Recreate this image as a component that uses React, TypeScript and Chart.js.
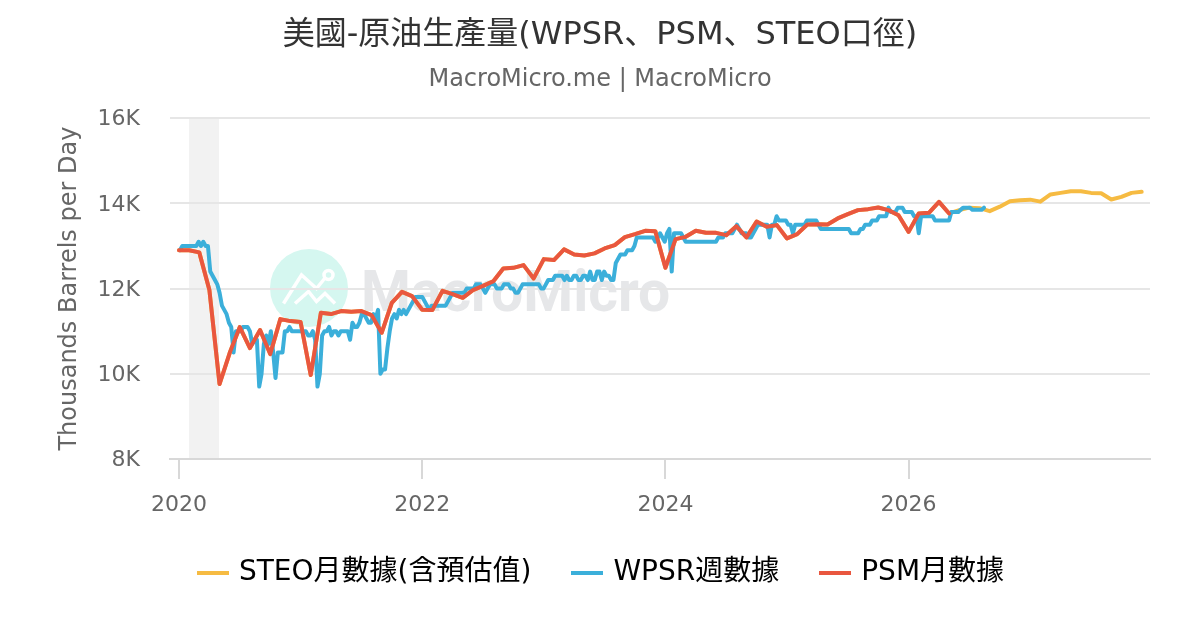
import React, { useEffect, useRef } from "react";
import { Chart, registerables } from "chart.js";

Chart.register(...registerables);

const FONT = '"DejaVu Sans", "Noto Sans CJK JP", sans-serif';

const titleText = "美國-原油生產量(WPSR、PSM、STEO口徑)";
const subtitleText = "MacroMicro.me | MacroMicro";
const yAxisTitle = "Thousands Barrels per Day";
const steoName = "STEO月數據(含預估值)";
const wpsrName = "WPSR週數據";
const psmName = "PSM月數據";
const yearTicks = [2020, 2022, 2024, 2026];
const recession = [2020.082, 2020.329];

// Monthly, from Jan 2020
const psmValues = [
  12900, 12900, 12850, 11965, 9760, 10487, 11097, 10604, 11026, 10463, 11284, 11237,
  11214, 9971, 11432, 11402, 11472, 11456, 11472, 11378, 10963, 11667, 11925, 11824,
  11505, 11495, 11948, 11871, 11784, 11965, 12066, 12169, 12474, 12488, 12551, 12239,
  12692, 12669, 12920, 12802, 12779, 12826, 12943, 13020, 13208, 13279, 13356, 13349,
  12490, 13161, 13215, 13356, 13309, 13309, 13255, 13466, 13201, 13576, 13450, 13490,
  13178, 13279, 13506, 13513, 13506, 13647, 13748, 13842, 13865, 13905, 13842, 13720,
  13332, 13764, 13778, 14036, 13764,
];

// Monthly forecast part of STEO, continuing after the months it shares with PSM
const steoForecast = [
  13842, 13900, 13888, 13818, 13924, 14053, 14076, 14088, 14041, 14210, 14247, 14287,
  14287, 14247, 14240, 14093, 14154, 14247, 14271,
];

// Weekly, from 3 Jan 2020
const wpsrValues = [
  12900, 13000, 13000, 13000, 13000, 13000, 13000, 13000, 13100, 13000, 13100, 13000, 13000, 12400, 12300, 12200,
  12100, 11900, 11600, 11500, 11400, 11200, 11100, 10500, 11000, 11000, 11000, 11100, 11100, 11100, 11000, 10700,
  10800, 10800, 9700, 10000, 10700, 10900, 10700, 11000, 10500, 9900, 10500, 10500, 10500, 11000, 11000, 11100,
  11000, 11000, 11000, 11000, 11000, 11000, 11000, 10900, 10900, 11000, 10800, 9700, 10000, 10900, 11000, 11000,
  11100, 10900, 11000, 11000, 10900, 11000, 11000, 11000, 11000, 10800, 11200, 11100, 11100, 11200, 11400, 11400,
  11300, 11200, 11200, 11400, 11300, 11500, 10000, 10100, 10100, 10600, 11000, 11300, 11400, 11300, 11500, 11400,
  11500, 11400, 11500, 11600, 11700, 11800, 11800, 11800, 11800, 11700, 11600, 11500, 11600, 11600, 11600, 11600,
  11600, 11600, 11600, 11700, 11800, 11900, 11900, 11900, 11900, 11900, 11900, 12000, 12000, 12000, 12000, 12100,
  12100, 12100, 12000, 11900, 12000, 12100, 12100, 12100, 12000, 12000, 12000, 12100, 12100, 12100, 12000, 12000,
  11900, 11900, 12000, 12100, 12100, 12100, 12100, 12100, 12100, 12100, 12100, 12000, 12000, 12100, 12200, 12200,
  12200, 12300, 12300, 12300, 12300, 12200, 12300, 12200, 12200, 12300, 12300, 12200, 12200, 12300, 12300, 12200,
  12400, 12200, 12200, 12400, 12400, 12200, 12400, 12300, 12300, 12200, 12200, 12600, 12700, 12800, 12800, 12800,
  12900, 12900, 12900, 13000, 13200, 13200, 13200, 13200, 13200, 13200, 13200, 13200, 13100, 13200, 13300, 13200,
  13100, 13300, 13400, 12400, 13300, 13300, 13300, 13300, 13200, 13100, 13100, 13100, 13100, 13100, 13100, 13100,
  13100, 13100, 13100, 13100, 13100, 13100, 13100, 13200, 13200, 13200, 13300, 13300, 13300, 13300, 13400, 13500,
  13400, 13300, 13300, 13300, 13200, 13200, 13300, 13400, 13500, 13500, 13500, 13500, 13500, 13200, 13500, 13500,
  13700, 13600, 13600, 13600, 13600, 13500, 13500, 13300, 13500, 13500, 13500, 13500, 13500, 13600, 13600, 13600,
  13600, 13600, 13500, 13400, 13400, 13400, 13400, 13400, 13400, 13400, 13400, 13400, 13400, 13400, 13400, 13400,
  13300, 13300, 13300, 13300, 13400, 13400, 13500, 13500, 13500, 13600, 13600, 13600, 13700, 13700, 13700, 13700,
  13900, 13800, 13800, 13800, 13900, 13900, 13900, 13800, 13800, 13800, 13800, 13700, 13700, 13300, 13700, 13700,
  13700, 13700, 13700, 13700, 13600, 13600, 13600, 13600, 13600, 13600, 13600, 13800, 13800, 13800, 13800, 13850,
  13900, 13900, 13900, 13900, 13850, 13850, 13850, 13850, 13850, 13900,
];

const steoValues = [...psmValues, ...steoForecast];
const monthX = (i: number) => 2020 + i / 12;
const weekX = (i: number) => 2020.008 + (i * 7) / 365.25;

const background = {
  id: "background",
  afterLayout(chart: any) {
    const l = chart.legend;
    l.left += 2.5;
    l.right += 2.5;
    l.top += 1.5;
    l.bottom += 1.5;
  },
  beforeDraw(chart: any) {
    const { ctx, chartArea: a, scales } = chart;
    ctx.save();
    const x0 = scales.x.getPixelForValue(recession[0]);
    const x1 = scales.x.getPixelForValue(recession[1]);
    ctx.fillStyle = "#f2f2f2";
    ctx.fillRect(x0, a.top, x1 - x0, a.bottom - a.top);
    ctx.fillStyle = "#d5f7f0";
    ctx.beginPath();
    ctx.arc(309, 288, 39, 0, Math.PI * 2);
    ctx.fill();
    ctx.strokeStyle = "#ffffff";
    ctx.lineWidth = 3.5;
    ctx.lineJoin = "miter";
    ctx.lineCap = "butt";
    ctx.beginPath();
    ctx.moveTo(283.5, 303.5);
    ctx.lineTo(301.5, 275);
    ctx.lineTo(316.5, 288.5);
    ctx.lineTo(325, 278);
    ctx.moveTo(295, 303.5);
    ctx.lineTo(308.5, 291.5);
    ctx.lineTo(316.5, 301.5);
    ctx.lineTo(325, 293.5);
    ctx.lineTo(335, 303.5);
    ctx.stroke();
    ctx.beginPath();
    ctx.arc(328.5, 275, 4.5, 0, Math.PI * 2);
    ctx.stroke();
    ctx.fillStyle = "#e6e7e9";
    ctx.font = 'bold 57px Roboto, sans-serif';
    ctx.textBaseline = "alphabetic";
    ctx.textAlign = "left";
    ctx.fillText("MacroMicro", 361, 311);
    ctx.restore();
  },
};

const legendMark = (color: string) => {
  const c = document.createElement("canvas");
  c.width = 32;
  c.height = 4;
  const g = c.getContext("2d")!;
  g.fillStyle = color;
  g.fillRect(0, 0, 32, 4);
  return c;
};

export default function App() {
  const ref = useRef<HTMLCanvasElement | null>(null);
  useEffect(() => {
    document.body.style.margin = "0";
    const line = (label: string, color: string, order: number, data: { x: number; y: number }[]) => ({
      label,
      data,
      order,
      borderColor: color,
      backgroundColor: color,
      borderWidth: 4,
      pointRadius: 0,
      pointStyle: legendMark(color),
      tension: 0,
      fill: false,
      borderJoinStyle: "round" as const,
      borderCapStyle: "round" as const,
    });
    const chart = new Chart(ref.current!, {
      type: "line",
      plugins: [background],
      data: {
        datasets: [
          line(steoName, "#f6bb42", 3, steoValues.map((y, i) => ({ x: monthX(i), y }))),
          line(wpsrName, "#3bafda", 2, wpsrValues.map((y, i) => ({ x: weekX(i), y }))),
          line(psmName, "#e9573f", 1, psmValues.map((y, i) => ({ x: monthX(i), y }))),
        ],
      },
      options: {
        responsive: false,
        animation: false,
        layout: { padding: { left: 50, right: 50, top: 16, bottom: 35 } },
        plugins: {
          tooltip: { enabled: false },
          title: {
            display: true,
            text: titleText,
            color: "#333333",
            font: { family: FONT, size: 32, weight: "normal", lineHeight: 1.2 },
            padding: { top: 0, bottom: 11 },
          },
          subtitle: {
            display: true,
            text: subtitleText,
            color: "#666666",
            font: { family: FONT, size: 24, weight: "normal", lineHeight: 1.2 },
            padding: { top: 0, bottom: 24 },
          },
          legend: {
            position: "bottom",
            labels: {
              color: "#000000",
              font: { family: FONT, size: 28 },
              usePointStyle: true,
              pointStyleWidth: 24,
              boxHeight: 4,
              padding: 44,
              sort: (a: any, b: any) => a.datasetIndex - b.datasetIndex,
            },
          },
        },
        scales: {
          x: {
            type: "linear",
            min: 2019.926,
            max: 2027.985,
            afterBuildTicks: (s: any) => {
              s.ticks = yearTicks.map((value) => ({ value }));
            },
            afterFit: (s: any) => {
              s.height = 54;
            },
            grid: { drawOnChartArea: false, drawTicks: true, tickLength: 20, color: "#d8d8d8", lineWidth: 2 },
            border: { color: "#d8d8d8", width: 2 },
            ticks: {
              color: "#666666",
              font: { family: FONT, size: 22 },
              padding: 13,
              maxRotation: 0,
              callback: (v: any) => String(v),
            },
          },
          y: {
            min: 8000,
            max: 16000,
            afterFit: (s: any) => {
              s.width = 120;
            },
            title: {
              display: true,
              text: yAxisTitle,
              color: "#666666",
              font: { family: FONT, size: 24 },
              padding: { top: 5, bottom: 0 },
            },
            grid: { drawTicks: false, color: "#e6e6e6", lineWidth: 2 },
            border: { display: false },
            ticks: {
              stepSize: 2000,
              color: "#666666",
              font: { family: FONT, size: 22 },
              padding: 30,
              labelOffset: 1.5,
              callback: (v: any) => `${Number(v) / 1000}K`,
            },
          },
        },
      },
    });
    return () => chart.destroy();
  }, []);
  return <canvas ref={ref} width={1200} height={630} style={{ display: "block" }} />;
}
